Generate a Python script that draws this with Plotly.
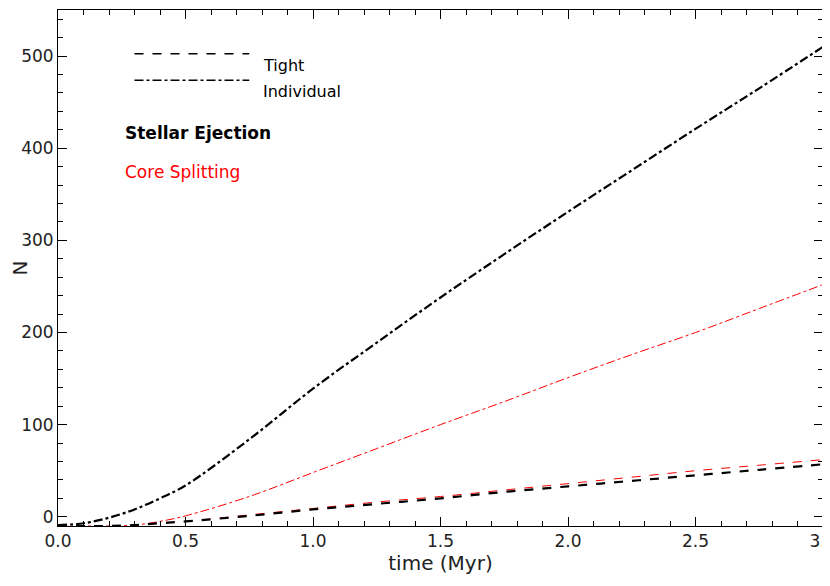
import plotly.graph_objects as go

t = [0.0, 0.1, 0.2, 0.3, 0.4, 0.5, 0.75, 1.0, 1.25, 1.5, 1.75, 2.0, 2.25, 2.5, 2.75, 3.0]
ej_ind = [-9, -7, -1, 8, 20, 34, 84, 139, 189, 238, 285, 331, 376, 421, 465, 510]
cs_ind = [-10, -10, -10, -9, -5, 1, 22, 48, 74, 100, 125, 151, 176, 200, 226, 252]
ej_tight = [-10, -10, -10, -9, -7, -5, 1, 8, 14, 20, 27, 33, 39, 45, 51, 57]
cs_tight = [-10, -10, -10, -9, -7, -5, 2, 9, 16, 22, 29, 36, 43, 50, 56, 62]

fig = go.Figure()
fig.add_trace(go.Scatter(x=t, y=cs_tight, mode='lines', line=dict(color='red', width=1, dash='dash', shape='spline')))
fig.add_trace(go.Scatter(x=t, y=cs_ind, mode='lines', line=dict(color='red', width=1, dash='dashdot', shape='spline')))
fig.add_trace(go.Scatter(x=t, y=ej_tight, mode='lines', line=dict(color='black', width=2.2, dash='dash', shape='spline')))
fig.add_trace(go.Scatter(x=t, y=ej_ind, mode='lines', line=dict(color='black', width=2.2, dash='dashdot', shape='spline')))

ax = dict(showline=True, linecolor='black', linewidth=1, mirror='allticks', ticks='inside',
          ticklen=9, tickcolor='black', showgrid=False, zeroline=False, automargin=False,
          minor=dict(ticks='inside', ticklen=5, tickcolor='black'))
fig.update_xaxes(range=[0, 3], dtick=0.5, tickformat='.1f', minor_dtick=0.1,
                 title=dict(text='time (Myr)', standoff=2), **ax)
fig.update_yaxes(range=[-10, 550], dtick=100, minor_dtick=20,
                 title=dict(text='N', standoff=4), **ax)

# legend samples
fig.add_shape(type='line', xref='paper', yref='paper', x0=0.1, x1=0.25, y0=0.915, y1=0.915,
              line=dict(color='black', width=1.5, dash='dash'))
fig.add_shape(type='line', xref='paper', yref='paper', x0=0.1, x1=0.25, y0=0.864, y1=0.864,
              line=dict(color='black', width=1.5, dash='dashdot'))
fig.add_annotation(xref='paper', yref='paper', x=0.265, y=0.915, text='Tight', showarrow=False,
                   xanchor='left', font=dict(size=16, color='black'))
fig.add_annotation(xref='paper', yref='paper', x=0.265, y=0.864, text='Individual', showarrow=False,
                   xanchor='left', font=dict(size=16, color='black'))
fig.add_annotation(xref='paper', yref='paper', x=0.085, y=0.785, text='<b>Stellar Ejection</b>', showarrow=False,
                   xanchor='left', font=dict(size=17, color='black'))
fig.add_annotation(xref='paper', yref='paper', x=0.085, y=0.71, text='Core Splitting', showarrow=False,
                   xanchor='left', font=dict(size=17, color='red'))

fig.update_layout(width=830, height=586, showlegend=False, plot_bgcolor='white', paper_bgcolor='white',
                  font=dict(family='DejaVu Sans', size=17, color='#222'),
                  margin=dict(l=50, r=15, t=2, b=68))
fig.write_html('out.html')
